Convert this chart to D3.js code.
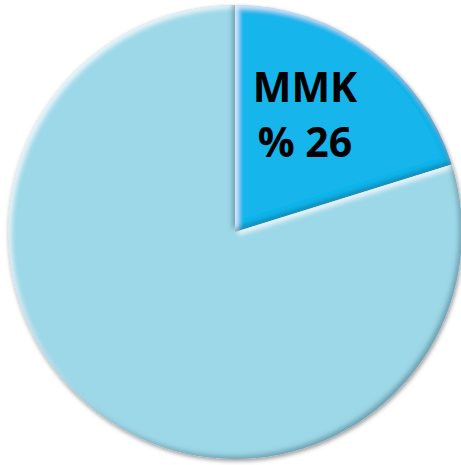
<!DOCTYPE html>
<html><head><meta charset="utf-8">
<script src="https://cdn.jsdelivr.net/npm/d3@7"></script>
<style>html,body{margin:0;padding:0;background:#fff;}</style>
</head><body>
<script>
const categories = ["MMK", "Other"];
const values = [20.2, 79.8];
const labelLines = [["MMK", "% 26"], []];
const colors = ["#14b5ec", "#9dd8e8"];

const W = 461, H = 465;
const cx = 235, cy = 232, R = 227;
const svg = d3.select("body").append("svg").attr("width", W).attr("height", H);
const defs = svg.append("defs");

const f = defs.append("filter").attr("id","bevel").attr("x","-10%").attr("y","-10%").attr("width","120%").attr("height","120%");
f.append("feGaussianBlur").attr("in","SourceAlpha").attr("stdDeviation",2.5).attr("result","blur");
f.append("feOffset").attr("in","blur").attr("dx",3).attr("dy",3).attr("result","offA");
f.append("feComposite").attr("in","SourceAlpha").attr("in2","offA").attr("operator","out").attr("result","hiMask");
f.append("feFlood").attr("flood-color","#ffffff").attr("flood-opacity",0.75).attr("result","white");
f.append("feComposite").attr("in","white").attr("in2","hiMask").attr("operator","in").attr("result","hi");
f.append("feOffset").attr("in","blur").attr("dx",-3).attr("dy",-3).attr("result","offB");
f.append("feComposite").attr("in","SourceAlpha").attr("in2","offB").attr("operator","out").attr("result","shMask");
f.append("feFlood").attr("flood-color","#0a4f66").attr("flood-opacity",0.55).attr("result","dark");
f.append("feComposite").attr("in","dark").attr("in2","shMask").attr("operator","in").attr("result","sh");
const m = f.append("feMerge");
m.append("feMergeNode").attr("in","SourceGraphic");
m.append("feMergeNode").attr("in","hi");
m.append("feMergeNode").attr("in","sh");

const ds = defs.append("filter").attr("id","drop").attr("x","-10%").attr("y","-10%").attr("width","120%").attr("height","120%");
ds.append("feGaussianBlur").attr("in","SourceAlpha").attr("stdDeviation",2).attr("result","b");
ds.append("feOffset").attr("in","b").attr("dx",1).attr("dy",2).attr("result","o");
ds.append("feFlood").attr("flood-color","#000").attr("flood-opacity",0.4).attr("result","c");
ds.append("feComposite").attr("in","c").attr("in2","o").attr("operator","in").attr("result","s");
const m2 = ds.append("feMerge");
m2.append("feMergeNode").attr("in","s");
m2.append("feMergeNode").attr("in","SourceGraphic");

const pie = d3.pie().sort(null).value(d => d)(values);
const arc = d3.arc().innerRadius(0).outerRadius(R);

const g = svg.append("g").attr("transform", `translate(${cx},${cy})`).attr("filter","url(#drop)");
g.selectAll("path.slice").data(pie).enter().append("path")
  .attr("class","slice")
  .attr("d", arc)
  .attr("fill", (d,i) => colors[i])
  .attr("filter","url(#bevel)");

const lg = svg.append("g").attr("transform", `translate(${cx},${cy})`);
pie.forEach((d,i) => {
  const lines = labelLines[i];
  if (!lines.length) return;
  const t = lg.append("text")
    .attr("text-anchor","middle")
    .attr("font-family","'Open Sans', 'Liberation Sans', sans-serif")
    .attr("font-weight","bold")
    .attr("font-size", 41)
    .attr("fill","#000");
  lines.forEach((s,k) => {
    t.append("tspan").attr("x", 70).attr("y", -130 + k*55).text(s);
  });
});
</script>
</body></html>
